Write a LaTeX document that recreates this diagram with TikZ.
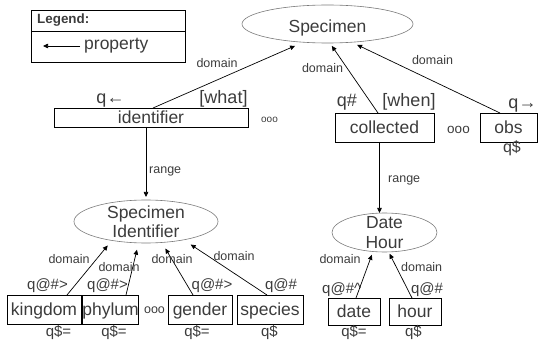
\documentclass[tikz,border=0pt]{standalone}
\usepackage{fontspec}
\setmainfont{Liberation Sans}
\usetikzlibrary{arrows.meta,shapes.geometric,calc}
\definecolor{txt}{HTML}{3C3C3C}
\definecolor{ellc}{HTML}{7A7A7A}
\begin{document}
\begin{tikzpicture}[x=1pt,y=-1pt,
  box/.style={draw=black, line width=0.8pt, inner sep=0pt, outer sep=0pt, text=txt, font=\fontsize{17.5}{19}\selectfont, text height=12.6pt, text depth=0pt},
  ell/.style={draw=ellc, line width=0.6pt, ellipse, inner sep=-5pt, outer sep=0pt, text=txt, font=\fontsize{17.5}{19.3}\selectfont, align=center},
  lbl/.style={inner sep=0pt, anchor=base, text=txt, font=\fontsize{12.5}{14}\selectfont},
  qs/.style={inner sep=0pt, anchor=base, text=txt, font=\fontsize{15}{16}\selectfont},
  qb/.style={inner sep=0pt, anchor=base, text=txt, font=\fontsize{18}{19}\selectfont},
  dots/.style={inner sep=0pt, anchor=base, text=txt},
  legbox/.style={draw=black, line width=0.8pt, inner sep=0pt, minimum width=154pt},
  arr/.style={-{Triangle[length=5pt,width=4.5pt]}, line width=0.7pt, draw=black}
]
\path[use as bounding box] (0,0) rectangle (558,342);

% legend
\node[legbox, minimum height=21.7pt] (lghead) at (108.7,20.85) {};
\node[legbox, minimum height=30.6pt] (lgbody) at (108.7,47) {};
\node[inner sep=0pt, anchor=base west, text=txt, font=\bfseries\fontsize{13.4}{14}\selectfont] (lgt) at (37,24) {Legend:};
\node[inner sep=0pt, anchor=base west, text=txt, font=\fontsize{17.5}{19}\selectfont] (prop) at (84,50) {property};
\coordinate (la) at (80,46);
\coordinate (lb) at (43,46);
\draw[arr] (la) -- (lb);

% ellipses
\node[ell, minimum width=171pt, minimum height=38pt, text height=16.6pt, text depth=0pt] (spec) at (327.5,24) {Specimen};
\node[ell, minimum width=144pt, minimum height=43pt] (specid) at (146,221.5) {Specimen\\Identifier};
\node[ell, minimum width=105pt, minimum height=39pt] (dh) at (384.5,232.5) {Date\\Hour};

% boxes
\node[box, minimum width=194pt, minimum height=19pt] (id) at (151,117.5) {identifier};
\node[box, minimum width=99pt, minimum height=29pt] (col) at (384.5,127.5) {collected};
\node[box, minimum width=57pt, minimum height=29pt] (obs) at (508.5,127.5) {obs};
\node[box, minimum width=74pt, minimum height=29pt] (kingdom) at (44,309.5) {kingdom};
\node[box, minimum width=55pt, minimum height=29pt] (phylum) at (110.5,309.5) {phylum};
\node[box, minimum width=64pt, minimum height=29pt] (gender) at (200,309.5) {gender};
\node[box, minimum width=66pt, minimum height=29pt] (species) at (270,309.5) {species};
\node[box, minimum width=52pt, minimum height=27pt] (date) at (354,311.5) {date};
\node[box, minimum width=52pt, minimum height=27pt] (hour) at (415,311.5) {hour};

% annotations on top row
\node[qb] (qid) at (110.5,104) {q←};
\node[qb] (what) at (223.5,104) {[what]};
\node[qb] (qcol) at (347,107) {q\#};
\node[qb] (when) at (409,107) {[when]};
\node[qb] (qobs) at (522.5,109) {q→};
\node[qs, font=\fontsize{16}{17}\selectfont] (qobsb) at (512,153) {q\$};

% ellipsis marks
\node[dots, font=\fontsize{10}{10}\selectfont] (d1) at (269.5,123) {ooo};
\node[dots, font=\fontsize{13.5}{14}\selectfont] (d2) at (458.5,133.5) {ooo};
\node[dots, font=\fontsize{12.5}{13}\selectfont] (d3) at (154.5,313.5) {ooo};

% bottom annotations
\node[qs] (qk) at (47.5,290) {q@\#>};
\node[qs] (qp) at (107.5,290) {q@\#>};
\node[qs] (qg) at (212,290) {q@\#>};
\node[qs] (qsp) at (281,290) {q@\#};
\node[qs, anchor=base west] (qd) at (322,293.3) {q@\#\textasciicircum};
\node[qs] (qh) at (427,293.3) {q@\#};
\node[qs] (qkb) at (58.5,336.7) {q\$=};
\node[qs] (qpb) at (114,336.7) {q\$=};
\node[qs] (qgb) at (197,336.7) {q\$=};
\node[qs] (qspb) at (269.5,336.7) {q\$};
\node[qs] (qdb) at (354,336.7) {q\$=};
\node[qs] (qhb) at (413.5,336.7) {q\$};

% connectors
\draw[arr, shorten >=9pt] ([xshift=2pt]id.north) -- (spec.217.4);
\draw[arr, shorten >=3.5pt] ([xshift=-6.5pt]col.north) -- (spec.277.3);
\draw[arr, shorten >=6pt] ([xshift=-8.5pt]obs.north) -- (spec.323.5);
\draw[arr, shorten >=3pt] (specid.north |- id.south) -- (specid.north);
\draw[arr] ([xshift=-5pt]col.south) -- ([xshift=-5pt]col.south |- dh.north);
\draw[arr, shorten >=6.5pt] ([xshift=23pt]kingdom.north) -- (specid.209.6);
\draw[arr, shorten >=7pt] ([xshift=15.5pt]phylum.north) -- (specid.251.1);
\draw[arr, shorten >=7pt] ([xshift=-7pt]gender.north) -- (specid.307.6);
\draw[arr, shorten >=8.5pt] ([xshift=-3pt]species.north) -- (specid.334.4);
\draw[arr, shorten >=3.5pt] ([xshift=2pt]date.north) -- (dh.239.6);
\draw[arr, shorten >=2pt] ([xshift=-3pt]hour.north) -- (dh.282.9);

% connector labels
\node[lbl] (dm1) at (217,68) {domain};
\node[lbl] (dm2) at (322.5,72.7) {domain};
\node[lbl] (dm3) at (432.5,65) {domain};
\node[lbl, anchor=base west] (rg1) at (149,173.3) {range};
\node[lbl, anchor=base west] (rg2) at (388,182.7) {range};
\node[lbl] (dm4) at (69,263.3) {domain};
\node[lbl] (dm5) at (119,271.7) {domain};
\node[lbl] (dm6) at (172,264) {domain};
\node[lbl] (dm7) at (234,260.7) {domain};
\node[lbl] (dm8) at (340,264) {domain};
\node[lbl] (dm9) at (421.7,271.7) {domain};
\end{tikzpicture}
\end{document}
